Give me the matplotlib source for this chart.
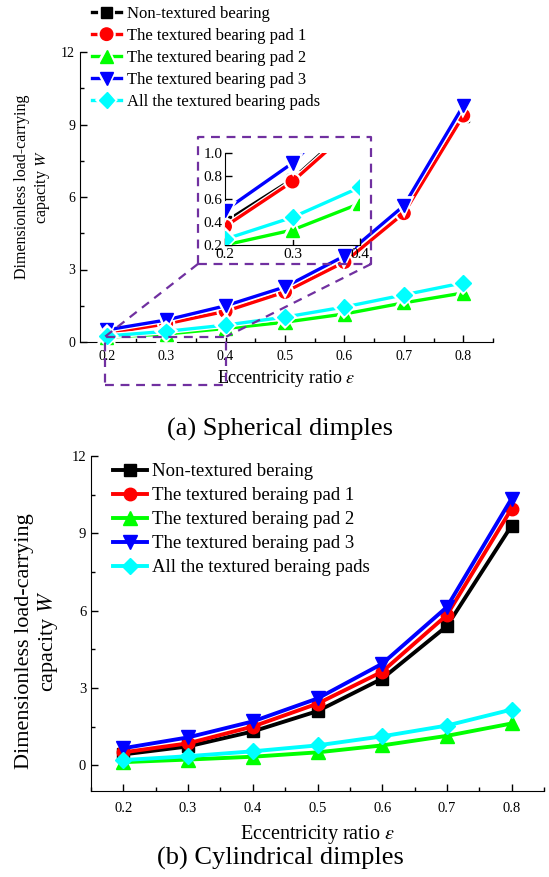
import matplotlib
matplotlib.use("Agg")
import matplotlib.pyplot as plt
import matplotlib.patheffects as pe
from matplotlib.ticker import MultipleLocator

plt.rcParams['font.family'] = ['Liberation Serif', 'DejaVu Serif']
plt.rcParams['mathtext.fontset'] = 'stix'

# Data
eps = [0.2, 0.3, 0.4, 0.5, 0.6, 0.7, 0.8]

# (a) spherical dimples
sph_non = [0.40, 0.77, 1.30, 2.10, 3.35, 5.35, 9.35]
sph_pad1 = [0.36, 0.75, 1.27, 2.07, 3.31, 5.33, 9.37]
sph_pad2 = [0.20, 0.33, 0.56, 0.82, 1.16, 1.62, 2.03]
sph_pad3 = [0.50, 0.91, 1.50, 2.28, 3.56, 5.64, 9.78]
sph_all = [0.25, 0.44, 0.70, 1.03, 1.45, 1.95, 2.45]

# (b) cylindrical dimples
cyl_non = [0.42, 0.73, 1.31, 2.10, 3.36, 5.40, 9.30]
cyl_pad1 = [0.50, 0.85, 1.50, 2.39, 3.63, 5.83, 9.96]
cyl_pad2 = [0.12, 0.22, 0.33, 0.50, 0.77, 1.14, 1.62]
cyl_pad3 = [0.66, 1.08, 1.70, 2.59, 3.94, 6.14, 10.35]
cyl_all = [0.20, 0.35, 0.54, 0.77, 1.12, 1.54, 2.16]

labels_a = ['Non-textured bearing', 'The textured bearing pad 1', 'The textured bearing pad 2',
            'The textured bearing pad 3', 'All the textured bearing pads']
labels_b = ['Non-textured beraing', 'The textured beraing pad 1', 'The textured beraing pad 2',
            'The textured beraing pad 3', 'All the textured beraing pads']
colors = ['black', '#FF0000', '#00FF00', '#0000FF', '#00FFFF']
markers = ['s', 'o', '^', 'v', 'D']
msizes = [8, 9, 9.5, 9.5, 8]

W, H = 549, 877
fig = plt.figure(figsize=(W / 100, H / 100), dpi=100)

ax1 = fig.add_axes([80 / W, 1 - 342 / H, 413 / W, 290 / H])
ax2 = fig.add_axes([91 / W, 1 - 791 / H, 453 / W, 335 / H])
axins = fig.add_axes([225 / W, 1 - 245 / H, 135 / W, 92.3 / H])

outline = [pe.Stroke(linewidth=4.2, foreground='white'), pe.Normal()]


def style_axes(ax, fs):
    for s in ['top', 'right']:
        ax.spines[s].set_visible(False)
    ax.tick_params(which='both', direction='in', labelsize=fs)
    ax.tick_params(which='major', length=5, width=1)
    ax.tick_params(which='minor', length=3, width=1)


# ---- (a) spherical ----
sph = [sph_non, sph_pad1, sph_pad2, sph_pad3, sph_all]
for y, c, m, ms, lab in zip(sph, colors, markers, msizes, labels_a):
    ax1.plot(eps, y, color=c, marker=m, ms=ms, lw=2.4, label=lab,
             path_effects=outline, clip_on=False, zorder=3)
ax1.set_xlim(0.155, 0.85)
ax1.set_ylim(0, 12)
ax1.xaxis.set_major_locator(MultipleLocator(0.1))
ax1.xaxis.set_minor_locator(MultipleLocator(0.05))
ax1.yaxis.set_major_locator(MultipleLocator(3))
ax1.yaxis.set_minor_locator(MultipleLocator(1.5))
style_axes(ax1, 10)
ax1.tick_params(axis='x', pad=6)
ax1.set_xlabel(r'Eccentricity ratio $\varepsilon$', fontsize=13)
ax1.xaxis.set_label_coords(0.5, -0.09)
ax1.set_ylabel('Dimensionless load-carrying\ncapacity $W$', fontsize=11.5, linespacing=1.25)
ax1.yaxis.set_label_coords(-0.068, 0.535)

fig.legend(*ax1.get_legend_handles_labels(), loc='upper left',
           bbox_to_anchor=(92 / W, 1 - 6 / H), frameon=False, fontsize=12,
           handlelength=1.75, handletextpad=0.35, labelspacing=0.36,
           borderpad=0, borderaxespad=0)

# inset
for y, c, m, ms in zip(sph, colors, markers, msizes):
    axins.plot(eps, y, color=c, marker=m, ms=ms, lw=2.4, path_effects=outline, zorder=3)
axins.set_xlim(0.2, 0.4)
axins.set_ylim(0.2, 1.0)
axins.xaxis.set_major_locator(MultipleLocator(0.1))
axins.yaxis.set_major_locator(MultipleLocator(0.2))
style_axes(axins, 11)
axins.tick_params(pad=2)
axins.set_facecolor('white')
axins.set_zorder(5)

# dashed zoom marks
purple = '#7030A0'
dkw = dict(color=purple, lw=1.6, ls=(0, (4, 3)), clip_on=False, zorder=6)
bx0, bx1, by0, by1 = 0.3535, 0.645, 3.23, 8.5
sx0, sx1, sy0, sy1 = 0.197, 0.401, -1.78, 0.22
ax1.plot([bx0, bx1, bx1, bx0, bx0], [by0, by0, by1, by1, by0], **dkw)
ax1.plot([sx0, sx1, sx1, sx0, sx0], [sy0, sy0, sy1, sy1, sy0], **dkw)
ax1.plot([bx0, sx0], [by0, sy1], **dkw)
ax1.plot([bx1, sx1], [by0, sy1], **dkw)

fig.text(280 / W, 1 - 429 / H, '(a) Spherical dimples', fontsize=19, ha='center', va='center')

# ---- (b) cylindrical ----
cyl = [cyl_non, cyl_pad1, cyl_pad2, cyl_pad3, cyl_all]
for y, c, m, ms, lab in zip(cyl, colors, markers, msizes, labels_b):
    ax2.plot(eps, y, color=c, marker=m, ms=ms, lw=2.8, label=lab, zorder=3)
ax2.set_xlim(0.15, 0.85)
ax2.set_ylim(-1, 12)
ax2.xaxis.set_major_locator(MultipleLocator(0.1))
ax2.xaxis.set_minor_locator(MultipleLocator(0.05))
ax2.set_yticks([0, 3, 6, 9, 12])
ax2.yaxis.set_minor_locator(MultipleLocator(1.5))
style_axes(ax2, 10.5)
ax2.tick_params(axis='x', pad=8)
ax2.set_xlabel(r'Eccentricity ratio $\varepsilon$', fontsize=14.5)
ax2.xaxis.set_label_coords(0.5, -0.0955)
ax2.set_ylabel('Dimensionless load-carrying\ncapacity $W$', fontsize=16, linespacing=1.15)
ax2.yaxis.set_label_coords(-0.068, 0.448)
ax2.legend(loc='upper left', bbox_to_anchor=(22 / 453, 1 - 7 / 335), frameon=False,
           fontsize=13.5, handlelength=1.8, handletextpad=0.3, labelspacing=0.37,
           borderpad=0, borderaxespad=0)

fig.text(280 / W, 1 - 858 / H, '(b) Cylindrical dimples', fontsize=19, ha='center', va='center')

fig.savefig('out.png', dpi=100)
